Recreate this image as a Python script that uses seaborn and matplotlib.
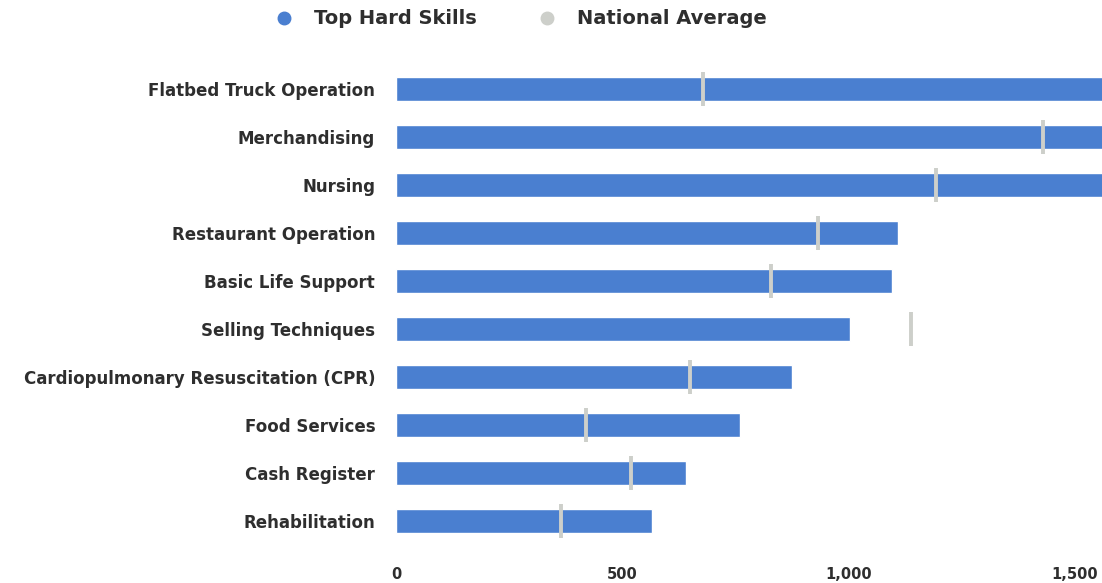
import matplotlib

matplotlib.use("Agg")

import matplotlib.pyplot as plt
from matplotlib.lines import Line2D
from matplotlib.ticker import FuncFormatter
import pandas as pd
import seaborn as sns

skills = [
    "Flatbed Truck Operation",
    "Merchandising",
    "Nursing",
    "Restaurant Operation",
    "Basic Life Support",
    "Selling Techniques",
    "Cardiopulmonary Resuscitation (CPR)",
    "Food Services",
    "Cash Register",
    "Rehabilitation",
]
# first three bars run past the right edge of the plot
top_hard_skills = [1800, 1750, 1700, 1109, 1096, 1003, 875, 760, 641, 566]
national_average = [678, 1429, 1193, 932, 828, 1138, 649, 420, 519, 364]
x_ticks = [0, 500, 1000, 1500]

BAR_COLOR = "#4a7fd0"
AVG_COLOR = "#cdcfca"
TEXT_COLOR = "#2e2e2e"

sns.set_theme(style="white")
plt.rcParams["font.family"] = ["DejaVu Sans"]

df = pd.DataFrame({"skill": skills, "value": top_hard_skills, "avg": national_average})

fig = plt.figure(figsize=(11.02, 5.83), dpi=100)
ax = fig.add_axes([396 / 1102, 1 - 545 / 583, 1 - 396 / 1102, 480 / 583])

sns.barplot(data=df, y="skill", x="value", orient="h", color=BAR_COLOR,
            width=0.48, saturation=1, ax=ax)
sns.scatterplot(data=df, y="skill", x="avg", marker="|", s=600, linewidth=2.8,
                color=AVG_COLOR, ax=ax, zorder=3)

ax.set_xlim(0, 1560)
ax.set_ylim(len(skills) - 0.5, -0.5)
ax.set_xticks(x_ticks)
ax.xaxis.set_major_formatter(FuncFormatter(lambda v, _: f"{int(v):,}"))
ax.set_xlabel("")
ax.set_ylabel("")
ax.tick_params(axis="x", length=0, pad=16, labelsize=10.5, labelcolor=TEXT_COLOR)
ax.tick_params(axis="y", length=0, pad=15, labelsize=12, labelcolor=TEXT_COLOR)
for lbl in ax.get_xticklabels() + ax.get_yticklabels():
    lbl.set_fontweight("bold")
for side in ax.spines.values():
    side.set_visible(False)
ax.grid(False)

handles = [
    Line2D([], [], marker="o", linestyle="", markersize=9, color=BAR_COLOR),
    Line2D([], [], marker="o", linestyle="", markersize=9, color=AVG_COLOR),
]
fig.legend(handles, ["Top Hard Skills", "National Average"], loc="center",
           bbox_to_anchor=(516 / 1102, 1 - 19 / 583), ncol=2, frameon=False,
           columnspacing=2.6, handletextpad=0.55,
           prop={"size": 14, "weight": "bold"}, labelcolor=TEXT_COLOR)

fig.savefig("out.png", dpi=100)
